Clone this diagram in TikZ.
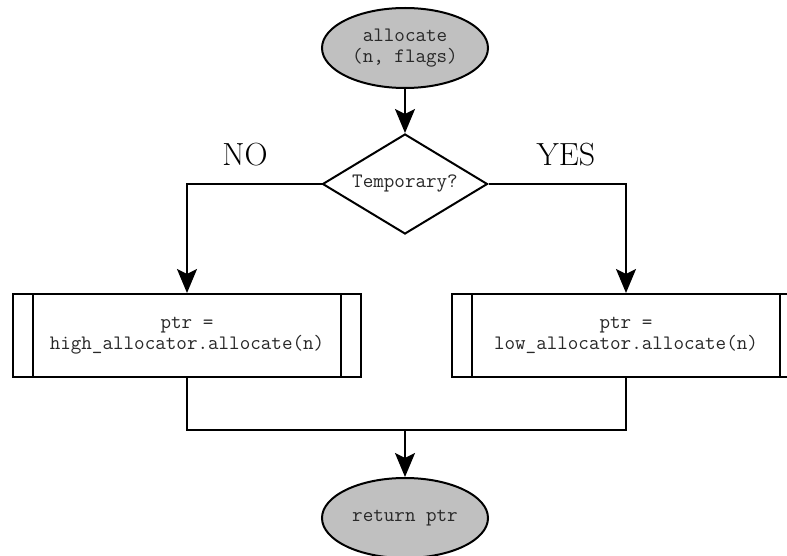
\documentclass[tikz,border=0pt]{standalone}
\usetikzlibrary{shapes.geometric,arrows.meta}
\definecolor{termfill}{RGB}{192,192,192}
\definecolor{codegray}{RGB}{40,40,40}
\begin{document}
\begin{tikzpicture}[x=1pt,y=-1pt,line width=2pt,
  code/.style={font=\ttfamily\fontsize{20.5}{21}\selectfont, text=codegray, align=center},
  terminal/.style={ellipse, draw, fill=termfill, minimum width=166pt, minimum height=80pt, inner sep=0pt, code},
  decision/.style={diamond, draw, fill=white, aspect=1.65, minimum width=165pt, minimum height=100pt, inner sep=0pt, code},
  subproc/.style={rectangle, draw, fill=white, minimum width=348pt, minimum height=83pt, inner sep=0pt, code},
  flow/.style={-{Stealth[length=24pt,width=20pt,inset=5pt]}},
  answer/.style={font=\fontsize{32}{36}\selectfont}]
\clip (0,0) rectangle (787,556);
\fill[white] (0,0) rectangle (787,556);

\node[terminal] (start) at (405,48) {allocate\\(n, flags)};
\node[decision] (temp) at (405,184) {Temporary?};
\node[subproc] (high) at (187,335.5) {ptr =\\high\_allocator.allocate(n)};
\node[subproc] (low) at (626,335.5) {ptr =\\low\_allocator.allocate(n)};
\node[terminal] (done) at (405,518) {return ptr};

% inner borders of the predefined-process boxes
\foreach \b in {high,low}{
  \draw ([xshift=21pt]\b.north west) -- ([xshift=21pt]\b.south west);
  \draw ([xshift=-21pt]\b.north east) -- ([xshift=-21pt]\b.south east);
}

\node[answer] (no) at (245,155) {NO};
\node[answer] (yes) at (566,155) {YES};

\coordinate (join) at (405,430);

\draw[flow] (start) -- (temp);
\draw[flow] (temp.west) -| (high.north);
\draw[flow] (temp.east) -| (low.north);
\draw (high.south) |- (join);
\draw (low.south) |- (join);
\draw[flow] (join) -- (done.north);
\end{tikzpicture}
\end{document}
